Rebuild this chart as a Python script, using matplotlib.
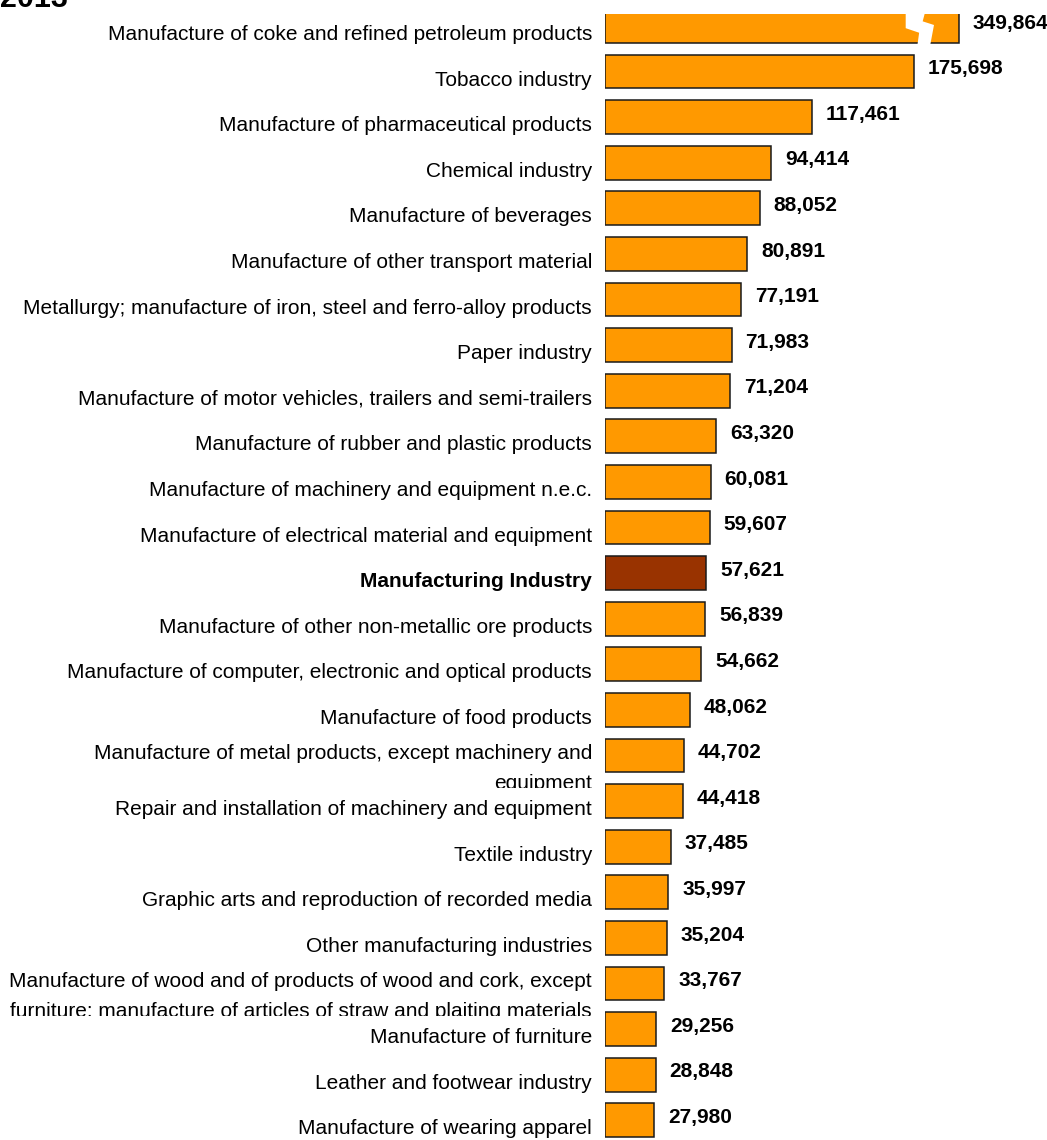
import matplotlib
matplotlib.use("Agg")
import matplotlib.pyplot as plt
from matplotlib.transforms import Bbox, TransformedBbox, blended_transform_factory
from matplotlib.patches import Polygon

plt.rcParams['font.family'] = ['Liberation Sans', 'DejaVu Sans']

title = "2013"
categories = [
    "Manufacture of coke and refined petroleum products",
    "Tobacco industry",
    "Manufacture of pharmaceutical products",
    "Chemical industry",
    "Manufacture of beverages",
    "Manufacture of other transport material",
    "Metallurgy; manufacture of iron, steel and ferro-alloy products",
    "Paper industry",
    "Manufacture of motor vehicles, trailers and semi-trailers",
    "Manufacture of rubber and plastic products",
    "Manufacture of machinery and equipment n.e.c.",
    "Manufacture of electrical material and equipment",
    "Manufacturing Industry",
    "Manufacture of other non-metallic ore products",
    "Manufacture of computer, electronic and optical products",
    "Manufacture of food products",
    "Manufacture of metal products, except machinery and\nequipment",
    "Repair and installation of machinery and equipment",
    "Textile industry",
    "Graphic arts and reproduction of recorded media",
    "Other manufacturing industries",
    "Manufacture of wood and of products of wood and cork, except\nfurniture; manufacture of articles of straw and plaiting materials",
    "Manufacture of furniture",
    "Leather and footwear industry",
    "Manufacture of wearing apparel",
]
values = [349864, 175698, 117461, 94414, 88052, 80891, 77191, 71983, 71204,
          63320, 60081, 59607, 57621, 56839, 54662, 48062, 44702, 44418,
          37485, 35997, 35204, 33767, 29256, 28848, 27980]
value_labels = [f"{v:,}" for v in values]
highlight = "Manufacturing Industry"
break_cap = 201000  # displayed length of the broken (truncated) bar

W, H = 1047, 1140
fig = plt.figure(figsize=(W / 100, H / 100), dpi=100)
ax_left_px = 605
ax_top_px = 14
ax = fig.add_axes([ax_left_px / W, 0, (W - ax_left_px) / W, (H - ax_top_px) / H])
px_per_unit = 0.00176
ax.set_xlim(0, (W - ax_left_px) / px_per_unit)
pitch = 45.6
first_center = 25.9 - ax_top_px
ax.set_ylim((H - ax_top_px - first_center) / pitch, -first_center / pitch)
ax.axis('off')

n = len(values)
ypos = list(range(n))
disp = [min(v, break_cap) for v in values]
colors = ['#993300' if c == highlight else '#FF9900' for c in categories]
ax.barh(ypos, disp, height=0.745, color=colors, edgecolor='#1a1a1a',
        linewidth=1.1, zorder=2)

# break mark on truncated bar
for i, v in enumerate(values):
    if v > break_cap:
        c = break_cap
        pts = [(c * 0.850, i - 0.6), (c * 0.915, i - 0.6), (c * 0.898, i - 0.1),
               (c * 0.930, i - 0.02), (c * 0.915, i + 0.6), (c * 0.880, i + 0.6),
               (c * 0.888, i + 0.15), (c * 0.850, i + 0.05)]
        ax.add_patch(Polygon(pts, closed=True, facecolor='white',
                             edgecolor='none', zorder=3))

# value labels
for i, (d, lab) in enumerate(zip(disp, value_labels)):
    ax.annotate(lab, (d, i - 0.06), xytext=(10, 0), textcoords='offset points',
                ha='left', va='center', fontsize=15, fontweight='bold',
                color='black', zorder=4, annotation_clip=False)

# category labels
lab_tr = blended_transform_factory(fig.transFigure, ax.transData)
for i, cat in enumerate(categories):
    bold = cat == highlight
    multi = "\n" in cat
    t = fig.text(592 / W, i + (0.28 if multi else 0.19), cat, transform=lab_tr,
                 ha='right', va='center', fontsize=15,
                 fontweight='bold' if bold else 'normal', color='black',
                 linespacing=1.75 if multi else 1.0)
    if multi:
        bb = TransformedBbox(Bbox([[0, i - 0.6], [1, i + 0.72]]), lab_tr)
        t.set_clip_box(bb)
        t.set_clip_on(True)

fig.text(0.0, 1 - 7 / H, title, ha='left', va='baseline', fontsize=22,
         fontweight='bold')

fig.savefig("out.png", dpi=100)
